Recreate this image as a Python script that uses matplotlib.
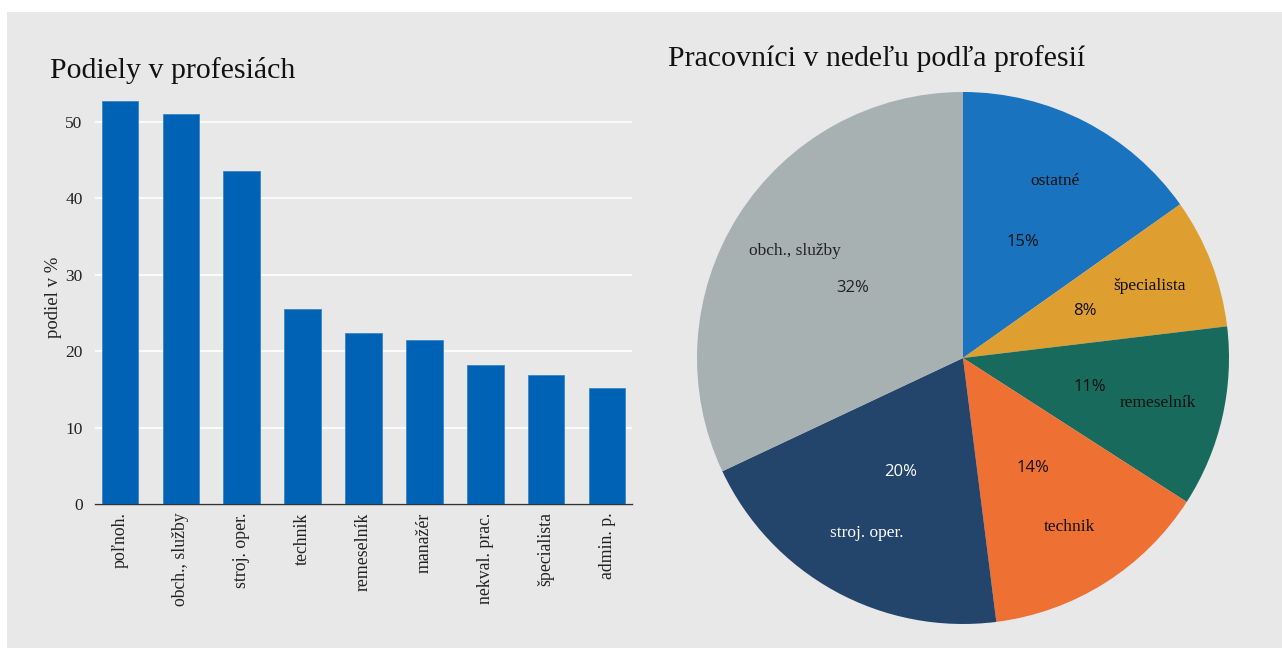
import numpy as np
import matplotlib
matplotlib.use("Agg")
import matplotlib.pyplot as plt
from matplotlib.patches import Rectangle

# bar chart data
professions = ["poľnoh.", "obch., služby", "stroj. oper.", "technik", "remeselník",
               "manažér", "nekval. prac.", "špecialista", "admin. p."]
shares = [52.7, 51.0, 43.5, 25.5, 22.3, 21.5, 18.2, 16.9, 15.2]

# pie data
pie_labels = ["ostatné", "špecialista", "remeselník", "technik", "stroj. oper.", "obch., služby"]
pie_values = [15.2, 7.9, 11.0, 13.9, 20.0, 32.0]
pie_colors = ["#1a73be", "#de9e30", "#186a5c", "#ef7033", "#23456b", "#a7b1b2"]
pie_text_colors = ["#111111", "#111111", "#111111", "#111111", "#ffffff", "#222222"]

BG = "#e8e8e8"
SERIF = "Liberation Serif"

W, H = 1282, 648
fig = plt.figure(figsize=(W / 100, H / 100), dpi=100, facecolor="white")
fig.patches.append(Rectangle((7 / W, 0), 1, 1 - 12 / H, transform=fig.transFigure,
                             facecolor=BG, edgecolor="none", zorder=-10))

# --- bar chart ---
ax = fig.add_axes([95 / W, 1 - 504 / H, (632 - 95) / W, (504 - 91) / H])
ax.set_facecolor(BG)
x = np.arange(len(professions))
ax.bar(x, shares, width=0.6, color="#0062b5", edgecolor="#3a84c8", linewidth=0.6, zorder=3)
ax.set_xlim(-0.41, len(professions) - 0.59)
ax.set_ylim(0, 54)
ax.set_yticks([0, 10, 20, 30, 40, 50])
ax.grid(axis="y", color="white", linewidth=1.2, zorder=0)
for s in ["top", "right", "left"]:
    ax.spines[s].set_visible(False)
ax.spines["bottom"].set_color("#333333")
ax.spines["bottom"].set_linewidth(1.0)
ax.tick_params(axis="y", length=0, pad=9, labelsize=12.5, labelcolor="#222222")
ax.tick_params(axis="x", length=0, pad=6)
ax.set_xticks(x)
ax.set_xticklabels(professions, rotation=90, fontsize=12.8, family=SERIF, color="#222222")
for t in ax.get_yticklabels():
    t.set_family(SERIF)
ax.set_ylabel("podiel v %", fontsize=13.5, family=SERIF, color="#222222", labelpad=2)
fig.text(50 / W, 1 - 70 / H, "Podiely v profesiách", fontsize=21.5, family=SERIF,
         color="#111111", va="center", ha="left")

# --- pie chart ---
r = 266
cx, cy = 963, 358
pax = fig.add_axes([(cx - r) / W, 1 - (cy + r) / H, 2 * r / W, 2 * r / H])
wedges, texts, autotexts = pax.pie(pie_values, colors=pie_colors, startangle=90,
                                   counterclock=False, labels=pie_labels,
                                   labeldistance=0.75, pctdistance=0.49,
                                   autopct="%.0f%%", radius=1.0,
                                   wedgeprops=dict(linewidth=0))
for t, p, c in zip(texts, autotexts, pie_text_colors):
    t.set_ha("center")
    t.set_va("center")
    t.set_family(SERIF)
    t.set_fontsize(12.5)
    t.set_color(c)
    p.set_family("Open Sans")
    p.set_fontsize(12)
    p.set_color(c)
pax.set_xlim(-1, 1)
pax.set_ylim(-1, 1)
pax.set_aspect("equal")
fig.text(877 / W, 1 - 59 / H, "Pracovníci v nedeľu podľa profesií", fontsize=21.5,
         family=SERIF, color="#111111", va="center", ha="center")

fig.savefig("out.png", dpi=100, facecolor=fig.get_facecolor())
